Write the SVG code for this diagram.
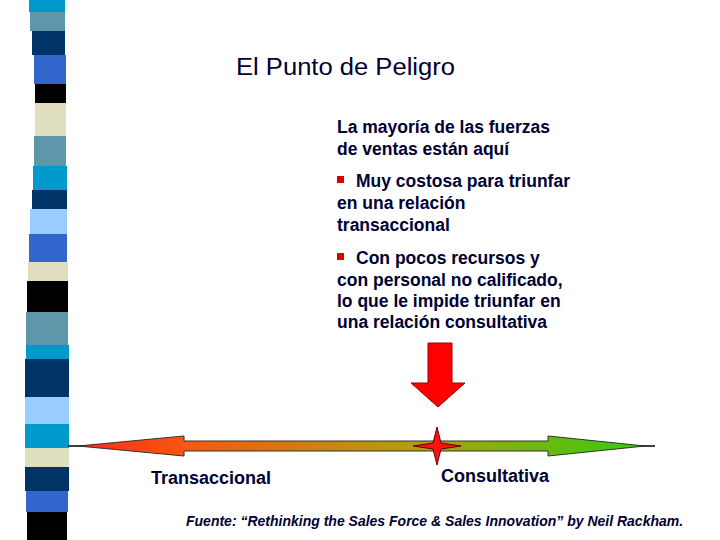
<svg xmlns="http://www.w3.org/2000/svg" width="720" height="540" viewBox="0 0 720 540">
<style>
text{font-family:"Liberation Sans",Arial,sans-serif;fill:#000033}
.b{font-size:17.5px;font-weight:bold}
</style>
<defs>
<linearGradient id="g" x1="78" y1="0" x2="645" y2="0" gradientUnits="userSpaceOnUse">
<stop offset="0" stop-color="#ff2a1a"/><stop offset="0.2" stop-color="#f55a10"/><stop offset="0.6" stop-color="#b0a010"/><stop offset="1" stop-color="#33cc11"/>
</linearGradient>
</defs>
<rect width="720" height="540" fill="#fff"/>
<g id="stripes">
<rect x="29" y="0" width="36" height="12" fill="#0099cc"/>
<rect x="30" y="12" width="35" height="19" fill="#5f96aa"/>
<rect x="32" y="31" width="33" height="24" fill="#003366"/>
<rect x="34" y="55" width="32" height="29" fill="#3366cc"/>
<rect x="35" y="84" width="31" height="19" fill="#000"/>
<rect x="35" y="103" width="31" height="33" fill="#e0e0c0"/>
<rect x="34" y="136" width="32" height="30" fill="#5f96aa"/>
<rect x="33" y="166" width="34" height="24" fill="#0099cc"/>
<rect x="32" y="190" width="35" height="19" fill="#003366"/>
<rect x="30" y="209" width="37" height="25" fill="#99ccff"/>
<rect x="29" y="234" width="38" height="28" fill="#3366cc"/>
<rect x="28" y="262" width="40" height="19" fill="#e0e0c0"/>
<rect x="27" y="281" width="41" height="31" fill="#000"/>
<rect x="26" y="312" width="42" height="33" fill="#5f96aa"/>
<rect x="26" y="345" width="43" height="14" fill="#0099cc"/>
<rect x="25" y="359" width="44" height="38" fill="#003366"/>
<rect x="25" y="397" width="44" height="27" fill="#99ccff"/>
<rect x="25" y="424" width="44" height="24" fill="#0099cc"/>
<rect x="25" y="448" width="44" height="19" fill="#e0e0c0"/>
<rect x="25" y="467" width="44" height="24" fill="#003366"/>
<rect x="26" y="491" width="42" height="21" fill="#3366cc"/>
<rect x="27" y="512" width="40" height="28" fill="#000"/>
</g>
<text x="236" y="75" style="font-size:23px" textLength="219" lengthAdjust="spacingAndGlyphs">El Punto de Peligro</text>
<g id="texts">
<text class="b" x="337" y="133">La mayoría de las fuerzas</text>
<text class="b" x="337" y="155">de ventas están aquí</text>
<rect x="337" y="176" width="7" height="7" fill="#dd0000"/>
<text class="b" x="356" y="187">Muy costosa para triunfar</text>
<text class="b" x="337" y="209">en una relación</text>
<text class="b" x="337" y="231">transaccional</text>
<rect x="337" y="253" width="7" height="7" fill="#dd0000"/>
<text class="b" x="356" y="264">Con pocos recursos y</text>
<text class="b" x="337" y="286">con personal no calificado,</text>
<text class="b" x="337" y="307">lo que le impide triunfar en</text>
<text class="b" x="337" y="328">una relación consultativa</text>
</g>
<g id="arrow">
<path d="M428,343 H452 V383 H465 L438,407 L411,383 H428 Z" fill="#ff0000" stroke="#990000" stroke-width="1"/>
</g>
<g id="connectors">
<line x1="68" y1="446" x2="655" y2="446" stroke="#000" stroke-width="1.5"/>
<path d="M78,446 L184,436 V441 H548 V436 L645,446 L548,456 V451 H184 V456 Z" fill="url(#g)" stroke="#333" stroke-width="1"/>
<path d="M437,427 L441,443 L461,446 L441,449 L437,465 L433,449 L413,446 L433,443 Z" fill="#ff1111" stroke="#660000" stroke-width="1"/>
</g>
<text x="151" y="484" style="font-size:18px;font-weight:bold">Transaccional</text>
<text x="441" y="482" style="font-size:18px;font-weight:bold">Consultativa</text>
<text x="186" y="526" style="font-size:14px;font-style:italic;font-weight:bold">Fuente: “Rethinking the Sales Force &amp; Sales Innovation” by Neil Rackham.</text>
</svg>
